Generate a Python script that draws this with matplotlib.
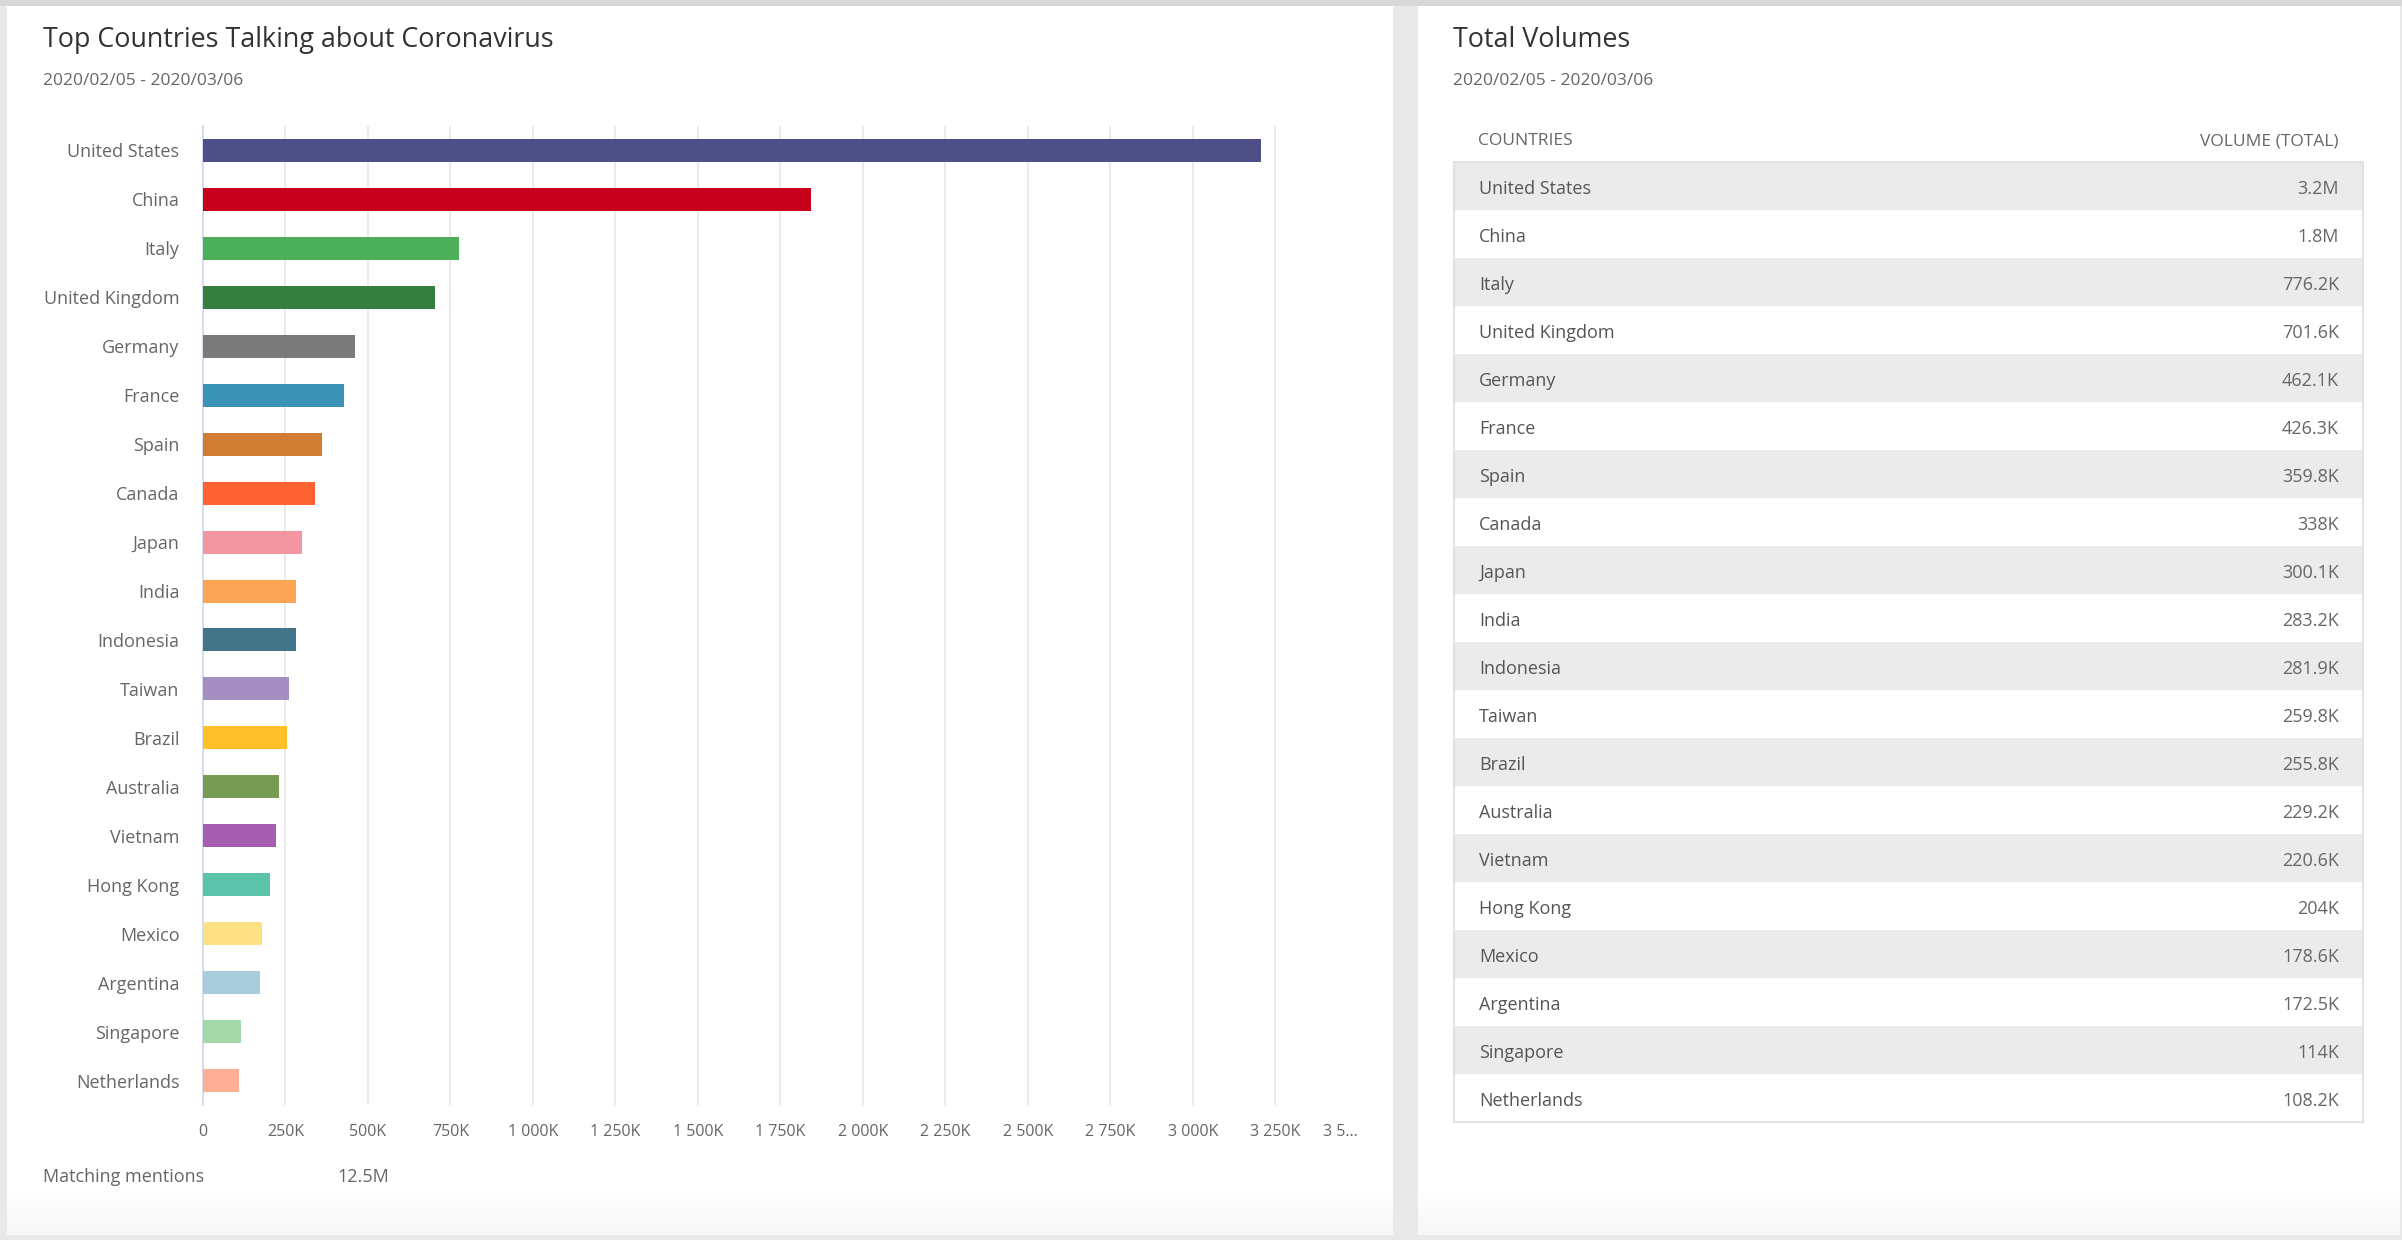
import matplotlib.pyplot as plt
import numpy as np
from matplotlib.patches import Rectangle

plt.rcParams['font.family'] = ['Open Sans', 'DejaVu Sans']

# data (volumes in thousands)
countries = ['United States', 'China', 'Italy', 'United Kingdom', 'Germany', 'France',
             'Spain', 'Canada', 'Japan', 'India', 'Indonesia', 'Taiwan', 'Brazil',
             'Australia', 'Vietnam', 'Hong Kong', 'Mexico', 'Argentina', 'Singapore',
             'Netherlands']
volumes = [3205, 1841, 776.2, 701.6, 462.1, 426.3, 359.8, 338.0, 300.1, 283.2,
           281.9, 259.8, 255.8, 229.2, 220.6, 204.0, 178.6, 172.5, 114.0, 108.2]
colors = ['#4e4f86', '#c7001c', '#4caf59', '#367e3f', '#7a7a7a', '#3b94b4',
          '#cf7d33', '#ff6333', '#f396a2', '#fca556', '#417487', '#a48fc0',
          '#ffc02a', '#789b53', '#a65eb0', '#5ac3aa', '#fddf84', '#a8ccdc',
          '#a4d8a9', '#fdaf95']
x_ticks = [0, 250, 500, 750, 1000, 1250, 1500, 1750, 2000, 2250, 2500, 2750, 3000, 3250, 3500]
total_mentions = '12.5M'
date_range = '2020/02/05 - 2020/03/06'


def fmt_volume(v):
    if v >= 1000:
        return f'{v / 1000:.1f}M'
    return f'{v:.1f}'.rstrip('0').rstrip('.') + 'K'


def fmt_tick(v):
    if v == 0:
        return '0'
    return f'{int(v):,}'.replace(',', ' ') + 'K'


W, H = 2402, 1240
fig = plt.figure(figsize=(W / 100, H / 100), dpi=100, facecolor='#e9e9e9')


def frac(x0, y0, x1, y1):
    return [x0 / W, 1 - y1 / H, (x1 - x0) / W, (y1 - y0) / H]


# background canvas in pixel coordinates
bg = fig.add_axes([0, 0, 1, 1])
bg.set_xlim(0, W)
bg.set_ylim(H, 0)
bg.axis('off')
bg.add_patch(Rectangle((0, 0), W, 6, color='#d8d8d8', lw=0))
for x0, x1 in [(7, 1393), (1418, 2400)]:
    bg.add_patch(Rectangle((x0, 6), x1 - x0, 1229, color='white', lw=0))
    grad = np.linspace(1, 0.965, 50).reshape(-1, 1)
    bg.imshow(grad, extent=(x0, x1, 1235, 1185), cmap='gray', vmin=0, vmax=1,
              aspect='auto', zorder=1)

title_c = '#333333'
text_c = '#666666'

# left panel texts
bg.text(43, 47, 'Top Countries Talking about Coronavirus', fontsize=19.4,
        color=title_c, va='baseline')
bg.text(43, 85, date_range, fontsize=12.5, color=text_c, va='baseline')
bg.text(43, 1182, 'Matching mentions', fontsize=13, color=text_c, va='baseline')
bg.text(337, 1182, total_mentions, fontsize=13, color=text_c, va='baseline')

# right panel texts
bg.text(1453, 47, 'Total Volumes', fontsize=19.4, color=title_c, va='baseline')
bg.text(1453, 85, date_range, fontsize=12.5, color=text_c, va='baseline')
bg.text(1478, 145, 'COUNTRIES', fontsize=12.5, color=text_c, va='baseline')
bg.text(2339, 145, 'VOLUME (TOTAL)', fontsize=12.5, color=text_c, va='baseline', ha='right')

row_top, row_h = 162, 48
for i, (name, v) in enumerate(zip(countries, volumes)):
    y = row_top + i * row_h
    if i % 2 == 0:
        bg.add_patch(Rectangle((1454, y), 909, row_h, color='#ebebeb', lw=0, zorder=2))
    bg.text(1479, y + 31.5, name, fontsize=13, color='#555555', va='baseline', zorder=3)
    bg.text(2339, y + 31.5, fmt_volume(v), fontsize=13, color=text_c, va='baseline',
            ha='right', zorder=3)
bg.add_patch(Rectangle((1454, row_top), 909, row_h * len(countries), fill=False,
                       ec='#e2e2e2', lw=1.5, zorder=2))

# bar chart
ax = fig.add_axes(frac(203, 126, 1358, 1105))
y = np.arange(len(countries))
ax.barh(y, volumes, height=0.47, color=colors, zorder=3)
ax.set_xlim(0, 3500)
ax.set_ylim(len(countries) - 0.5, -0.5)
ax.set_yticks(y)
ax.set_yticklabels(countries, fontsize=13, color=text_c)
ax.set_xticks(x_ticks)
labels = [fmt_tick(v) for v in x_ticks]
labels[-1] = '3 5…'
ax.set_xticklabels(labels, fontsize=11.5, color=text_c)
ax.xaxis.get_majorticklabels()[-1].set_horizontalalignment('right')
ax.tick_params(axis='both', length=0)
ax.tick_params(axis='y', pad=17)
ax.tick_params(axis='x', pad=14)
ax.grid(axis='x', color='#e6e6e6', lw=1.2, zorder=0)
ax.xaxis.get_gridlines()[-1].set_visible(False)
ax.xaxis.get_gridlines()[0].set_visible(False)
for s in ['top', 'right', 'bottom']:
    ax.spines[s].set_visible(False)
ax.spines['left'].set_color('#ccd6eb')
ax.spines['left'].set_linewidth(1.2)
ax.set_facecolor('none')

fig.savefig('out.png', dpi=100, facecolor=fig.get_facecolor())
